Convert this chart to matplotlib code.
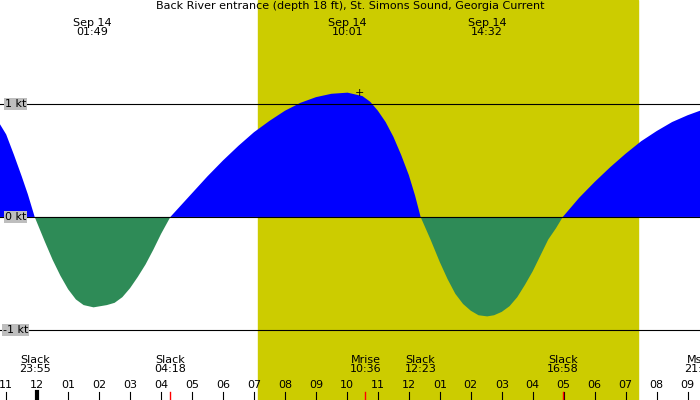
import numpy as np
import matplotlib
matplotlib.use("Agg")
import matplotlib.pyplot as plt

# hours relative to midnight Sep 14, current in knots
hours = [-1.2, -1.0, -0.75, -0.5, -0.3, -0.08,
         0.25, 0.5, 0.75, 1.0, 1.25, 1.5, 1.82, 2.25, 2.5, 2.75, 3.0, 3.25, 3.5, 3.75, 4.0, 4.3,
         5.0, 5.5, 6.0, 6.5, 7.0, 7.5, 8.0, 8.5, 9.0, 9.5, 10.02, 10.5, 10.75, 11.0, 11.25,
         11.5, 11.75, 12.0, 12.2, 12.38,
         12.7, 13.0, 13.25, 13.5, 13.75, 14.0, 14.25, 14.53, 14.75, 15.0, 15.25, 15.5, 15.75,
         16.0, 16.25, 16.5, 16.75, 16.97,
         17.5, 18.0, 18.5, 19.0, 19.5, 20.0, 20.5, 21.0, 21.4]
knots = [0.82, 0.73, 0.55, 0.36, 0.2, 0.0,
         -0.22, -0.38, -0.52, -0.64, -0.73, -0.78, -0.8, -0.78, -0.76, -0.71, -0.63, -0.53,
         -0.42, -0.29, -0.15, 0.0,
         0.21, 0.36, 0.5, 0.63, 0.75, 0.85, 0.94, 1.01, 1.06, 1.09, 1.1, 1.07, 1.02, 0.94,
         0.84, 0.71, 0.55, 0.37, 0.19, 0.0,
         -0.2, -0.4, -0.55, -0.68, -0.77, -0.83, -0.87, -0.88, -0.87, -0.84, -0.79, -0.71,
         -0.6, -0.48, -0.34, -0.2, -0.1, 0.0,
         0.17, 0.31, 0.44, 0.56, 0.67, 0.76, 0.84, 0.9, 0.94]

sunrise, sunset = 7.13, 19.39
top_events = [(1.77, "Sep 14\n01:49"), (10.02, "Sep 14\n10:01"), (14.53, "Sep 14\n14:32")]
bottom_events = [(-0.08, "Slack\n23:55"), (4.3, "Slack\n04:18"), (10.6, "Mrise\n10:36"),
                 (12.38, "Slack\n12:23"), (16.97, "Slack\n16:58"), (21.4, "Mset\n21:25")]
red_marks = [4.3, 10.6, 16.97]
tick_labels = ["11", "12", "01", "02", "03", "04", "05", "06", "07", "08", "09", "10",
               "11", "12", "01", "02", "03", "04", "05", "06", "07", "08", "09"]

x0, x1 = -1.2, 21.4
y0, y1 = -1.62, 1.92

fig = plt.figure(figsize=(7, 4), dpi=100)
ax = fig.add_axes([0, 0, 1, 1])
ax.set_facecolor("#bebebe")
ax.set_xlim(x0, x1)
ax.set_ylim(y0, y1)
ax.axis("off")
ax.axvspan(sunrise, sunset, color="#cccc00", zorder=0)

h = np.array(hours)
k = np.array(knots)
ax.fill_between(h, 0, k, where=k >= 0, color="#0000ff", interpolate=True, zorder=2, lw=0)
ax.fill_between(h, 0, k, where=k <= 0, color="#2e8b57", interpolate=True, zorder=2, lw=0)

for v, lab in [(1, "1 kt"), (0, "0 kt"), (-1, "-1 kt")]:
    ax.axhline(v, color="black", lw=0.8, zorder=3)
    ax.text(-0.7, v, lab, ha="center", va="center", fontsize=8, zorder=4,
            bbox=dict(facecolor="#bebebe", edgecolor="none", pad=0.5))

ax.text(0.5 * (x0 + x1), y1 - 0.01, "Back River entrance (depth 18 ft), St. Simons Sound, Georgia Current",
        ha="center", va="top", fontsize=8)
for t, lab in top_events:
    ax.text(t, y1 - 0.33, lab, ha="center", va="bottom", fontsize=8, linespacing=0.95)
ax.text(10.4, 1.1, "+", ha="center", va="center", fontsize=8, zorder=4)

for t, lab in bottom_events:
    ax.text(t, -1.22, lab, ha="center", va="top", fontsize=8, linespacing=0.95)

tick_hours = np.arange(-1, -1 + len(tick_labels))
for t, lab in zip(tick_hours, tick_labels):
    ax.plot([t, t], [y0, -1.55], color="black", lw=0.8)
    ax.text(t, -1.49, lab, ha="center", va="center", fontsize=8)
ax.plot([0, 0], [y0, -1.55], color="black", lw=3)
for t in red_marks:
    ax.plot([t, t], [y0, -1.55], color="red", lw=1)

fig.savefig("out.png", dpi=100)
